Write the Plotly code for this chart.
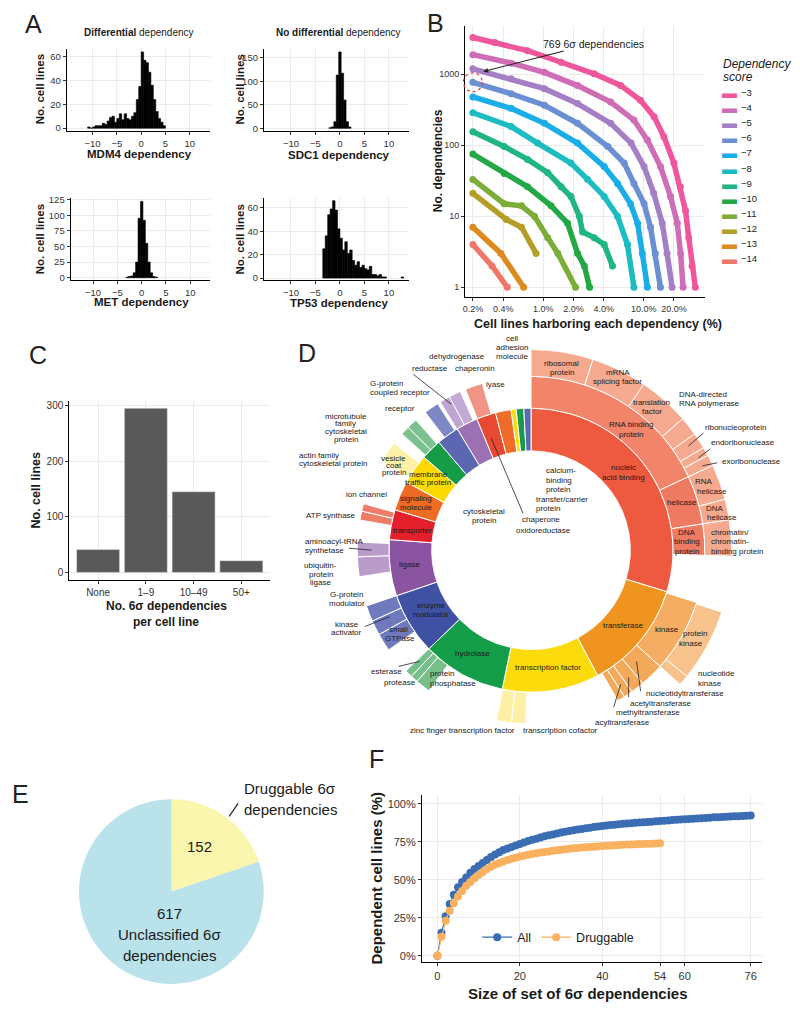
import math
import plotly.graph_objects as go

W, H = 800, 1013
FONT = "Liberation Sans, Arial, Helvetica, sans-serif"
INK = "#1a1a1a"
TICKC = "#333333"
GRID = "#ebebeb"


def px(x):
    return x / W


def py(y):
    return 1 - y / H


# ---------------- Panel A: histogram data (bin centres, counts) ----------------
mdm4_x = [-10.75, -10.25, -9.75, -9.25, -8.75, -8.25, -7.75, -7.25, -6.75, -6.25, -5.75, -5.25,
          -4.75, -4.25, -3.75, -3.25, -2.75, -2.25, -1.75, -1.25, -0.75, -0.25, 0.25, 0.75,
          1.25, 1.75, 2.25, 2.75, 3.25, 3.75, 4.25, 4.75]
mdm4_n = [1, 0, 1, 2, 2, 2, 4, 3, 6, 9, 10, 5, 8, 12, 7, 12, 8, 7, 10, 13, 24, 35, 64, 57,
          55, 47, 36, 24, 14, 8, 5, 2]

sdc1_x = [-2.0, -1.5, -1.0, -0.5, 0.0, 0.5, 1.0, 1.5, 2.0]
sdc1_n = [1, 3, 14, 113, 162, 117, 60, 14, 3]

met_x = [-3.0, -2.5, -2.0, -1.5, -1.0, -0.5, 0.0, 0.5, 1.0, 1.5, 2.0, 2.5, 3.0]
met_n = [1, 2, 3, 8, 25, 95, 122, 92, 55, 25, 8, 2, 1]

tp53_x = [-3.25, -2.75, -2.25, -1.75, -1.25, -0.75, -0.25, 0.25, 0.75, 1.25, 1.75, 2.25, 2.75,
          3.25, 3.75, 4.25, 4.75, 5.25, 5.75, 6.25, 6.75, 7.25, 7.75, 8.25, 8.75, 9.25, 12.75]
tp53_n = [25, 36, 54, 59, 66, 58, 42, 34, 24, 31, 21, 24, 15, 11, 14, 9, 11, 8, 7, 10, 3, 3, 2,
          3, 1, 1, 1]

# ---------------- Panel B: dependency curves ----------------
b_scores = [-3, -4, -5, -6, -7, -8, -9, -10, -11, -12, -13, -14]
b_pct = {
    -3: [0.2, 0.33, 0.70, 1.51, 3.22, 5.9, 9.3, 12.7, 15.9, 20.0, 23.2, 26.1, 28.1, 30.3, 32.7],
    -4: [0.2, 0.48, 1.03, 2.2, 4.7, 8.0, 10.9, 14.7, 18.5, 21.6, 23.3, 24.7],
    -5: [0.2, 0.48, 1.03, 2.2, 4.7, 7.5, 10.1, 12.6, 15.3, 17.1, 19.2],
    -6: [0.2, 0.48, 1.03, 2.2, 4.4, 6.4, 8.0, 10.1, 11.7, 13.1, 14.7],
    -7: [0.2, 0.48, 1.03, 2.2, 4.05, 5.5, 7.4, 8.7, 9.7, 10.9],
    -8: [0.2, 0.48, 0.88, 1.89, 2.77, 4.05, 5.5, 6.9, 8.0],
    -9: [0.2, 0.41, 0.70, 1.11, 1.51, 1.89, 2.29, 2.47, 3.22, 4.05, 4.9],
    -10: [0.2, 0.41, 0.70, 1.2, 1.75, 2.2, 2.57, 2.9],
    -11: [0.2, 0.41, 0.61, 0.82, 1.11, 1.40, 2.1],
    -12: [0.2, 0.43, 0.61, 0.85],
    -13: [0.2, 0.38, 0.64],
    -14: [0.2, 0.31, 0.44],
}
b_cnt = {
    -3: [3280, 2800, 2140, 1470, 1010, 695, 430, 251, 132, 56, 26, 12, 5, 2, 1],
    -4: [1880, 1430, 1060, 690, 405, 226, 118, 50, 19, 8, 3, 1],
    -5: [1187, 860, 625, 385, 203, 107, 50, 21, 8, 3, 1],
    -6: [769, 530, 365, 203, 96, 56, 29, 15, 7, 3, 1],
    -7: [478, 330, 203, 107, 50, 29, 15, 8, 3, 1],
    -8: [286, 183, 107, 56, 33, 19, 10, 4, 1],
    -9: [155, 96, 63, 41, 26, 19, 10, 6, 5, 4, 2],
    -10: [75, 40, 26, 14, 8, 3, 2, 1],
    -11: [33, 15, 14, 10, 5, 3, 1],
    -12: [21, 9, 7, 3],
    -13: [7, 3, 1],
    -14: [4, 2, 1],
}
b_colors = ["#ef569b", "#cf6db6", "#a47fc6", "#6a8fd2", "#1aaee9", "#1cbcc1",
            "#1fb585", "#22a845", "#7cad38", "#b59e27", "#dd8a1f", "#f0766a"]
b_note = 769

# ---------------- Panel C ----------------
c_cats = ["None", "1\u20139", "10\u201349", "50+"]
c_vals = [41, 295, 145, 21]

# ---------------- Panel D: protein classes (degrees of the circle) ----------------
d1_names = ["nucleic acid binding", "transferase", "transcription factor", "hydrolase",
            "enzyme modulator", "ligase", "transporter", "signaling molecule",
            "membrane traffic protein", "cytoskeletal protein", "receptor", "oxidoreductase",
            "chaperone", "lyase", "transfer/carrier protein", "calcium-binding protein",
            "cell adhesion molecule"]
d1_span = [107, 45, 39.7, 34.3, 25.3, 23, 12.2, 12.2, 12.3, 8.5, 9.2, 8.9, 7.9, 6.4, 2.1, 3.1, 2.9]
d1_colors = ["#ee5a40", "#ef941f", "#fcdb0c", "#159e4a", "#3f51a2", "#8b54a0", "#e4202c",
             "#ee6b24", "#fcd900", "#169c49", "#5b68b1", "#9c70b3", "#e84a31", "#f06d29",
             "#fcdc0c", "#169c49", "#5b6ab3"]

d2_names = ["RNA binding protein", "helicase", "DNA binding protein", "kinase",
            "nucleotidyltransferase", "acetyltransferase", "methyltransferase", "acyltransferase",
            "transcription cofactor", "zinc finger transcription factor", "protein phosphatase",
            "protease", "esterase", "small GTPase", "kinase activator", "G-protein modulator",
            "ubiquitin-protein ligase", "aminoacyl-tRNA synthetase", "ATP synthase", "ion channel",
            "vesicle coat protein", "actin family cytoskeletal protein",
            "microtubule family cytoskeletal protein", "G-protein coupled receptor",
            "dehydrogenase", "reductase", "chaperonin"]
d2_start = [0, 65, 81.3, 107.5, 132, 140, 144.5, 147.5, 181.7, 186.5, 216, 221, 223.5, 235, 241,
            246, 261.2, 267.8, 280, 283, 301, 312, 315, 322.5, 328.5, 332, 337.8]
d2_span = [65, 16.3, 10.4, 24.5, 8, 4.5, 3, 2.5, 4.8, 5, 5, 2.5, 2.5, 6, 5, 5.3, 6.6, 4.9, 3, 2.5,
           7, 3, 3.5, 5, 3.5, 4, 5.9]
d2_colors = ["#f2846a", "#ef7a62", "#ef7a62", "#f4ad62", "#f3a95a", "#f3a95a", "#f3a95a",
             "#f3a95a", "#fdf0a6", "#fdf0a6", "#76bf8b", "#76bf8b", "#76bf8b", "#6f79bd",
             "#6f79bd", "#6f79bd", "#b99cc9", "#b99cc9", "#ef7c66", "#ef7c66", "#fdf1a5",
             "#7dc190", "#7dc190", "#7e88c5", "#bfa6d2", "#c3aad6", "#f09585"]

d3_names = ["ribosomal protein", "mRNA splicing factor", "translation factor",
            "DNA-directed RNA polymerase", "ribonucleoprotein", "endoribonuclease",
            "exoribonuclease", "RNA helicase", "DNA helicase",
            "chromatin/chromatin-binding protein", "protein kinase", "nucleotide kinase"]
d3_start = [0, 18, 34.2, 49.1, 54.6, 59.3, 61.8, 65, 75.3, 81.3, 108, 129]
d3_span = [18, 16.2, 14.9, 5.5, 4.7, 2.5, 3.2, 10.3, 6, 10.4, 21, 3]
d3_colors = ["#f5a98e"] * 10 + ["#f7c28b", "#f7c28b"]

# ---------------- Panel E ----------------
e_labels = ["Druggable 6\u03c3 dependencies", "Unclassified 6\u03c3 dependencies"]
e_vals = [152, 617]

# ---------------- Panel F ----------------
f_all_x = list(range(0, 77))
f_all_y = [0, 15, 26, 34, 40, 45, 48.5, 51.5, 54.5, 57, 59, 61, 63, 65, 66.5, 68, 69.5, 70.5,
           71.5, 72.5, 73.5, 74.5, 75.5, 76.3, 77, 77.8, 78.5, 79.2, 79.8, 80.4, 81, 81.5, 82,
           82.5, 83, 83.4, 83.8, 84.2, 84.6, 85, 85.3, 85.6, 85.9, 86.2, 86.5, 86.8, 87, 87.2,
           87.4, 87.6, 87.8, 88, 88.2, 88.4, 88.6, 88.8, 89, 89.2, 89.4, 89.6, 89.8, 90, 90.1,
           90.3, 90.5, 90.6, 90.8, 91, 91.1, 91.3, 91.4, 91.5, 91.7, 91.8, 91.9, 92, 92.2]
f_drug_x = list(range(0, 55))
f_drug_y = [0, 12.5, 23, 29.5, 34.5, 39, 42.5, 46, 48.5, 51, 53, 55, 57, 58.5, 60, 61, 62, 63,
            63.8, 64.5, 65.2, 65.8, 66.4, 66.9, 67.4, 67.8, 68.2, 68.6, 69, 69.4, 69.7, 70, 70.3,
            70.6, 70.9, 71.1, 71.3, 71.5, 71.7, 71.9, 72.1, 72.3, 72.5, 72.6, 72.8, 73, 73.1,
            73.2, 73.3, 73.4, 73.5, 73.6, 73.7, 73.8, 74]

fig = go.Figure()
annotations = []
shapes = []


def ann(text, x, y, size=10, anchor="center", color=INK, angle=0, bold=False, italic=False):
    if bold:
        text = "<b>" + text + "</b>"
    if italic:
        text = "<i>" + text + "</i>"
    annotations.append(dict(text=text, x=px(x), y=py(y), xref="paper", yref="paper",
                            xanchor=anchor, yanchor="middle", showarrow=False, textangle=angle,
                            font=dict(size=size, color=color, family=FONT)))


def line(x0, y0, x1, y1, width=0.9, color="#222"):
    shapes.append(dict(type="line", xref="paper", yref="paper", x0=px(x0), y0=py(y0),
                       x1=px(x1), y1=py(y1), line=dict(color=color, width=width)))


def axis(domain, rng, anchor, size=9.5, **kw):
    d = dict(domain=domain, range=rng, anchor=anchor, showline=True, linecolor="black",
             linewidth=1.3, ticks="outside", ticklen=3, tickwidth=1, tickcolor=TICKC,
             showgrid=True, gridcolor=GRID, gridwidth=0.8, zeroline=False,
             tickfont=dict(size=size, color=TICKC, family=FONT))
    d.update(kw)
    return d


# ---- A histograms ----
hists = [(mdm4_x, mdm4_n, "x", "y"), (sdc1_x, sdc1_n, "x2", "y2"),
         (met_x, met_n, "x3", "y3"), (tp53_x, tp53_n, "x4", "y4")]
for hx, hn, xa, ya in hists:
    fig.add_trace(go.Bar(x=hx, y=hn, width=[0.5] * len(hx),
                         marker=dict(color="black", line=dict(width=0.6, color="black")),
                         xaxis=xa, yaxis=ya, showlegend=False))

# ---- B curves ----
for s, col in zip(b_scores, b_colors):
    fig.add_trace(go.Scatter(x=b_pct[s], y=b_cnt[s], mode="lines+markers",
                             line=dict(color=col, width=5.5), marker=dict(color=col, size=7),
                             xaxis="x5", yaxis="y5", showlegend=False, name=str(s)))

# ---- C bars ----
fig.add_trace(go.Bar(x=c_cats, y=c_vals, width=0.9, marker=dict(color="#595959"),
                     xaxis="x6", yaxis="y6", showlegend=False))

# ---- D rings ----
rings = [(d1_names, None, d1_span, d1_colors, 100, 43),
         (d2_names, d2_start, d2_span, d2_colors, 143, 32),
         (d3_names, d3_start, d3_span, d3_colors, 175, 27)]
for names, starts, spans, cols, base, thick in rings:
    if starts is None:
        starts = []
        acc = 0
        for s in spans:
            starts.append(acc)
            acc += s
    theta = [st + sp / 2 for st, sp in zip(starts, spans)]
    fig.add_trace(go.Barpolar(r=[thick] * len(names), base=[base] * len(names), theta=theta,
                              width=spans, text=names, hoverinfo="text",
                              marker=dict(color=cols, line=dict(color="white", width=1)),
                              showlegend=False))

# ---- E pie ----
fig.add_trace(go.Pie(values=e_vals, labels=e_labels, sort=False, direction="clockwise",
                     rotation=0, textinfo="none", hoverinfo="label+value",
                     marker=dict(colors=["#fbf6ad", "#b9e2eb"], line=dict(width=0)),
                     domain=dict(x=[px(76), px(262)], y=[py(986.7), py(800.7)]),
                     showlegend=False))

# ---- F curves ----
fig.add_trace(go.Scatter(x=f_all_x, y=f_all_y, mode="lines+markers", name="All",
                         line=dict(color="#3b6db4", width=1.2), marker=dict(color="#3b6db4", size=8),
                         xaxis="x7", yaxis="y7", legend="legend2"))
fig.add_trace(go.Scatter(x=f_drug_x, y=f_drug_y, mode="lines+markers", name="Druggable",
                         line=dict(color="#f9b15f", width=1.2), marker=dict(color="#f9b15f", size=8),
                         xaxis="x7", yaxis="y7", legend="legend2"))

# ---------------- axes ----------------
A_top = [py(128), py(45)]
A_bot = [py(278), py(195)]
bx_rng = [-0.775, 1.614]
by_rng = [-0.136, 3.68]
layout_axes = dict(
    xaxis=axis([px(64), px(208)], [-15.3, 14.2], "y", tickvals=[-10, -5, 0, 5, 10]),
    yaxis=axis(A_top, [-2.5, 66.7], "x", tickvals=[0, 20, 40, 60]),
    xaxis2=axis([px(262), px(408)], [-15.5, 14.2], "y2", tickvals=[-10, -5, 0, 5, 10]),
    yaxis2=axis(A_top, [-6, 169], "x2", tickvals=[0, 50, 100, 150]),
    xaxis3=axis([px(68), px(208)], [-14.6, 14.1], "y3", tickvals=[-10, -5, 0, 5, 10]),
    yaxis3=axis(A_bot, [-3.7, 128], "x3", tickvals=[0, 25, 50, 75, 100, 125]),
    xaxis4=axis([px(262), px(408)], [-15.5, 14.2], "y4", tickvals=[-10, -5, 0, 5, 10]),
    yaxis4=axis(A_bot, [-1.7, 68.6], "x4", tickvals=[0, 20, 40, 60]),
    xaxis5=axis([px(464), px(705)], bx_rng, "y5", size=9, type="log",
                tickvals=[0.2, 0.4, 1, 2, 4, 10, 20],
                ticktext=["0.2%", "0.4%", "1.0%", "2.0%", "4.0%", "10.0%", "20.0%"]),
    yaxis5=axis([py(295), py(22)], by_rng, "x5", size=9, type="log",
                tickvals=[1, 10, 100, 1000], ticktext=["1", "10", "100", "1000"]),
    xaxis6=axis([px(66.7), px(268)], [-0.6, 3.6], "y6", size=10, type="category"),
    yaxis6=axis([py(580), py(400)], [-13.7, 307.7], "x6", size=10, tickvals=[0, 100, 200, 300]),
    xaxis7=axis([px(420.7), px(761.7)], [-3.7, 78.7], "y7", size=11,
                tickvals=[0, 20, 40, 54, 60, 76]),
    yaxis7=axis([py(965), py(797)], [-4.4, 105.4], "x7", size=11,
                tickvals=[0, 25, 50, 75, 100], ticktext=["0%", "25%", "50%", "75%", "100%"]),
)

# ---------------- text: panel A ----------------
ann("<b>Differential</b> dependency", 137, 29, size=10)
ann("<b>No differential</b> dependency", 337, 29, size=10)
ann("MDM4 dependency", 137, 151, size=11.5, bold=True)
ann("SDC1 dependency", 337, 152, size=11.5, bold=True)
ann("MET dependency", 139, 300, size=11.5, bold=True)
ann("TP53 dependency", 337, 301, size=11.5, bold=True)
for (x, y) in [(38, 86), (238, 86), (38, 237), (238, 237)]:
    ann("No. cell lines", x, y, size=11.5, bold=True, angle=-90)

# ---------------- text: panel B ----------------
ann("No. dependencies", 437, 158, size=12, bold=True, angle=-90)
ann("Cell lines harboring each dependency (%)", 597, 322, size=12.5, bold=True)
annotations.append(dict(x=px(482), y=py(68), xref="paper", yref="paper",
                        text="%d 6\u03c3 dependencies" % b_note, showarrow=True, arrowhead=2,
                        arrowsize=0.9, arrowwidth=1.1, arrowcolor="#222", ax=110, ay=-28,
                        font=dict(size=10.5, color=INK, family=FONT)))
# dotted circle around the 769 point (domain coordinates computed from data)
cx = (math.log10(b_pct[-6][0]) - bx_rng[0]) / (bx_rng[1] - bx_rng[0])
cy = (math.log10(b_cnt[-6][0]) - by_rng[0]) / (by_rng[1] - by_rng[0])
rx, ry = 9.5 / 241, 9.5 / 273
shapes.append(dict(type="circle", xref="x5 domain", yref="y5 domain", x0=cx - rx, x1=cx + rx,
                   y0=cy - ry, y1=cy + ry, line=dict(color="#e8383d", width=1.2, dash="dot")))
# manual legend
ann("Dependency", 721, 60, size=12, anchor="left", italic=True)
ann("score", 721, 73.5, size=12, anchor="left", italic=True)
for i, (s, col) in enumerate(zip(b_scores, b_colors)):
    yy = 89 + i * 15.25
    ann("\u25ac", 729, yy, size=15, color=col)
    ann("\u2212%d" % abs(s), 739, yy, size=9.5, anchor="left")

# ---------------- text: panel C ----------------
ann("No. cell lines", 33, 490, size=12.5, bold=True, angle=-90)
ann("No. 6\u03c3 dependencies", 164, 606, size=12, bold=True)
ann("per cell line", 164, 622, size=12, bold=True)

# ---------------- text: panel D ----------------
DS = 8


def dl(lines, x, y, anchor="center", dy=8.6):
    for i, t in enumerate(lines):
        ann(t, x, y + i * dy, size=DS, anchor=anchor)


# ring 1
dl(["nucleic", "acid binding"], 623, 467, dy=9.3)
dl(["transferase"], 623, 626)
dl(["transcription factor"], 547, 668)
dl(["hydrolase"], 471, 654)
dl(["enzyme", "modulator"], 430, 606)
dl(["ligase"], 408, 564)
dl(["transporter"], 411, 530)
dl(["signaling", "molecule"], 415, 498)
dl(["membrane", "traffic protein"], 427, 474, dy=8)
# ring 2
dl(["RNA binding", "protein"], 630, 423.5, dy=9.8)
dl(["helicase"], 682, 502)
dl(["DNA", "binding", "protein"], 687, 532, dy=9.6)
dl(["kinase"], 667, 630)
dl(["vesicle", "coat", "protein"], 392, 458, dy=6.8)
dl(["small"], 397, 630)
dl(["GTPase"], 398, 638.5)
dl(["protein", "phosphatase"], 427, 674.5, anchor="left", dy=9.6)
# ring 3
dl(["ribosomal", "protein"], 561, 362, dy=9.3)
dl(["mRNA", "splicing factor"], 617, 371, dy=9.6)
dl(["translation", "factor"], 651, 401, dy=9.3)
dl(["RNA"], 704, 481)
dl(["helicase"], 712, 491)
dl(["DNA"], 715, 508)
dl(["helicase"], 722, 517)
dl(["chromatin/", "chromatin-", "binding protein"], 709, 532, anchor="left", dy=9.6)
dl(["protein"], 695, 634)
dl(["kinase"], 691, 643.5)
# outside labels
dl(["cell", "adhesion", "molecule"], 511, 337, dy=9)
dl(["dehydrogenase"], 456, 355)
dl(["reductase"], 429, 367)
dl(["chaperonin"], 474, 367)
dl(["lyase"], 494, 383)
dl(["G-protein", "coupled receptor"], 366, 382, anchor="left", dy=9.4)
dl(["receptor"], 398, 407)
dl(["microtubule", "family", "cytoskeletal", "protein"], 344, 415, dy=7.8)
dl(["actin family", "cytoskeletal protein"], 295, 455, anchor="left", dy=8)
dl(["ion channel"], 365, 494)
dl(["ATP synthase"], 329, 515)
dl(["aminoacyl-tRNA", "synthetase"], 301, 541, anchor="left", dy=9.3)
dl(["ubiquitin-", "protein", "ligase"], 319, 565, dy=9)
dl(["G-protein", "modulator"], 345, 595, dy=8.3)
dl(["kinase", "activator"], 345, 625, dy=7.8)
dl(["esterase"], 385, 672)
dl(["protease"], 398, 683)
dl(["zinc finger transcription factor"], 461, 732)
dl(["transcription cofactor"], 560, 732)
dl(["nucleotide", "kinase"], 696, 674.5, anchor="left", dy=9.6)
dl(["nucleotidyltransferase"], 643, 694, anchor="left")
dl(["acetyltransferase"], 627, 704, anchor="left")
dl(["methyltransferase"], 613, 713.5, anchor="left")
dl(["acyltransferase"], 592, 723, anchor="left")
dl(["DNA-directed", "RNA polymerase"], 677, 393, anchor="left", dy=9.6)
dl(["ribonucleoprotein"], 703, 426, anchor="left")
dl(["endoribonuclease"], 709, 442, anchor="left")
dl(["exoribonuclease"], 720, 461, anchor="left")
# centre labels
dl(["calcium-", "binding", "protein"], 543, 470, anchor="left", dy=9.5)
dl(["transfer/carrier", "protein"], 533, 498.5, anchor="left", dy=9.3)
dl(["chaperone"], 540.5, 519)
dl(["oxidoreductase"], 543, 530)
dl(["cytoskeletal", "protein"], 483, 511, dy=9.3)
# leader lines
for seg in [(412, 373, 450, 403), (522, 513, 490, 437), (347, 548, 370, 550),
            (363, 627, 388, 617), (397, 667, 418, 662), (640, 692, 636, 662),
            (628, 698, 628, 678), (613, 708, 620, 685), (703, 432, 688, 445),
            (710, 448, 698, 457), (717, 462, 702, 465)]:
    line(*seg, width=0.8)

# ---------------- text: panel E ----------------
ann(str(e_vals[0]), 197, 848, size=15)
ann(str(e_vals[1]), 167, 916, size=15)
ann("Unclassified 6\u03c3", 167, 937, size=15)
ann("dependencies", 167, 958, size=15)
ann("Druggable 6\u03c3", 240, 790, size=15, anchor="left")
ann("dependencies", 240, 811, size=15, anchor="left")
line(227, 818, 236, 805, width=1.2)

# ---------------- text: panel F ----------------
ann("Dependent cell lines (%)", 375, 880, size=15, bold=True, angle=-90)
ann("Size of set of 6\u03c3 dependencies", 577, 996, size=15, bold=True)

# ---------------- panel letters ----------------
for letter, x, y in [("A", 31, 20), ("B", 434, 19), ("C", 35, 353), ("D", 305, 351),
                     ("E", 18, 795), ("F", 375, 760)]:
    ann(letter, x, y, size=25, color="#222")

fig.update_layout(
    width=W, height=H, margin=dict(l=0, r=0, t=0, b=0),
    paper_bgcolor="white", plot_bgcolor="white",
    font=dict(family=FONT, color=INK),
    barmode="overlay",
    showlegend=True,
    legend2=dict(x=px(476), y=py(940), xanchor="left", yanchor="middle", orientation="h",
                 font=dict(size=12.5, color=INK, family=FONT), bgcolor="rgba(0,0,0,0)",
                 itemwidth=30, tracegroupgap=0),
    polar=dict(domain=dict(x=[px(328), px(732)], y=[py(752), py(348)]), hole=100 / 202,
               bgcolor="rgba(0,0,0,0)", barmode="overlay",
               radialaxis=dict(visible=False, range=[100, 202]),
               angularaxis=dict(visible=False, rotation=90, direction="clockwise")),
    annotations=annotations,
    shapes=shapes,
    **layout_axes,
)

fig.write_html("out.html", config={"displayModeBar": False},
               post_script="document.body.style.margin='0px';document.body.style.overflow='hidden';")
